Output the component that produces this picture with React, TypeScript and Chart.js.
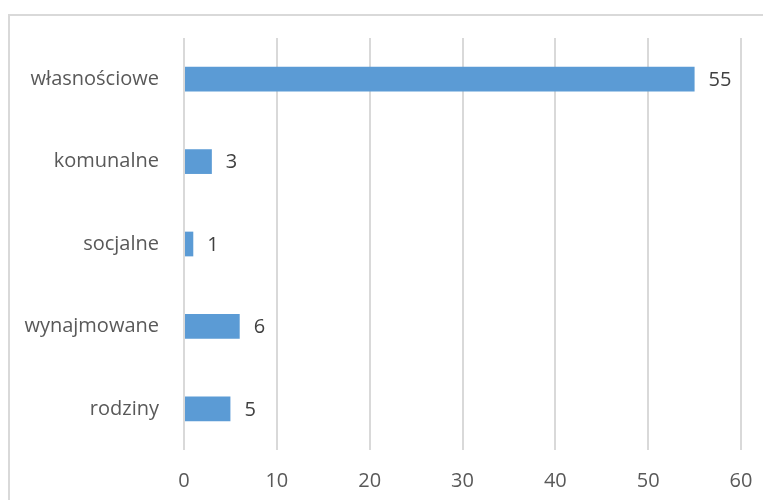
import React, { useEffect, useRef } from "react";
import { Chart, registerables } from "chart.js";

Chart.register(...registerables);

const categories = ["własnościowe", "komunalne", "socjalne", "wynajmowane", "rodziny"];
const values = [55, 3, 1, 6, 5];
const axisMin = 0;
const axisMax = 60;
const axisStep = 10;

const FONT = "'Open Sans', 'Noto Sans', sans-serif";

const valueLabels = {
  id: "valueLabels",
  afterDatasetsDraw(chart: any) {
    const ctx = chart.ctx;
    const meta = chart.getDatasetMeta(0);
    ctx.save();
    ctx.font = `20px ${FONT}`;
    ctx.fillStyle = "#404040";
    ctx.textAlign = "left";
    ctx.textBaseline = "middle";
    meta.data.forEach((bar: any, i: number) => {
      ctx.fillText(String(values[i]), bar.x + 14, bar.y + 1);
    });
    ctx.restore();
  },
};

export default function App() {
  const ref = useRef<HTMLCanvasElement | null>(null);
  useEffect(() => {
    document.body.style.overflow = "hidden";
    if (!ref.current) return;
    const chart = new Chart(ref.current, {
      type: "bar",
      data: {
        labels: categories,
        datasets: [
          {
            data: values,
            backgroundColor: "#5b9bd5",
            categoryPercentage: 1,
            barPercentage: 0.3,
          },
        ],
      },
      options: {
        indexAxis: "y",
        animation: false,
        responsive: false,
        maintainAspectRatio: false,
        layout: { padding: { top: 22, right: 30, left: 0, bottom: 0 } },
        plugins: { legend: { display: false }, tooltip: { enabled: false } },
        scales: {
          x: {
            min: axisMin,
            max: axisMax,
            ticks: {
              stepSize: axisStep,
              color: "#595959",
              font: { family: FONT, size: 20 },
              padding: 19,
            },
            grid: { color: "#d9d9d9", lineWidth: 2, drawTicks: false },
            border: { display: false },
            afterFit(scale: any) {
              scale.height = 50;
              scale.paddingLeft = 0;
              scale.paddingRight = 0;
            },
          },
          y: {
            ticks: {
              color: "#595959",
              font: { family: FONT, size: 20 },
              padding: 25,
            },
            grid: { display: false, drawTicks: false },
            border: { display: false },
            afterFit(scale: any) {
              scale.width = 174;
              scale.paddingTop = 0;
              scale.paddingBottom = 0;
            },
          },
        },
      },
      plugins: [valueLabels],
    });
    return () => chart.destroy();
  }, []);
  return (
    <div
      style={{
        paddingTop: 6,
        width: 763,
        height: 492,
        overflow: "hidden",
      }}
    >
      <div
        style={{
          borderLeft: "2px solid #d9d9d9",
          borderTop: "2px solid #d9d9d9",
          width: 761,
          height: 484,
        }}
      >
        <canvas ref={ref} width={761} height={484} style={{ display: "block" }} />
      </div>
    </div>
  );
}
